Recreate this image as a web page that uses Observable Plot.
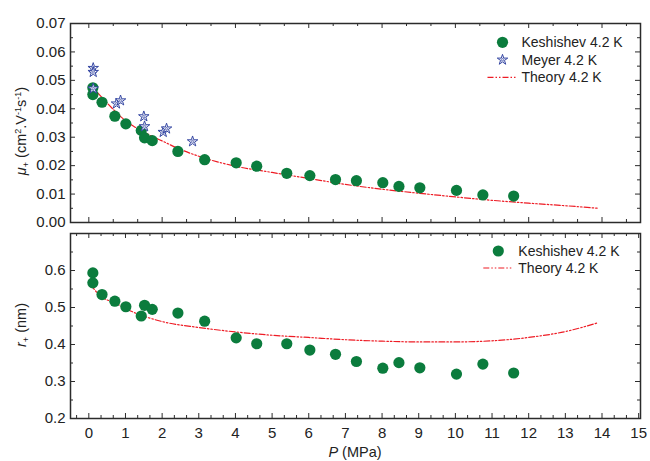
<!DOCTYPE html>
<html><head><meta charset="utf-8">
<script src="https://cdn.jsdelivr.net/npm/d3@7"></script>
<script src="https://cdn.jsdelivr.net/npm/@observablehq/plot@0.6"></script>
<style>
body{margin:0;background:#fff;}
#chart{width:650px;height:461px;position:relative;overflow:hidden;font-family:"Liberation Sans",Arial,sans-serif;}
#chart svg{display:block;}
</style></head><body><div id="chart"></div>
<script>
// ---- data ----
const kesP   = [0.11,0.11,0.36,0.71,1.01,1.43,1.52,1.73,2.43,3.16,4.02,4.58,5.40,6.03,6.73,7.30,8.02,8.46,9.03,10.03,10.75,11.59];
const kesMu  = [0.0474,0.0450,0.0423,0.0374,0.0347,0.0324,0.0298,0.0288,0.0250,0.0221,0.0210,0.0198,0.0173,0.0165,0.0151,0.0147,0.0140,0.0127,0.0122,0.0113,0.0097,0.0093];
const kesR   = [0.5935,0.5666,0.535,0.517,0.502,0.477,0.506,0.495,0.485,0.463,0.418,0.402,0.402,0.385,0.3735,0.354,0.336,0.351,0.337,0.320,0.347,0.323];
const meyP   = [0.12,0.12,0.12,0.755,0.865,1.50,1.52,2.03,2.12,2.83];
const meyMu  = [0.0543,0.0529,0.0471,0.0418,0.0429,0.0373,0.0338,0.0318,0.0330,0.0285];
const thMuP  = [0.25,0.5,1.0,1.5,2.0,2.5,3.0,4.0,5.0,6.0,7.0,8.0,9.0,10,11,12,13,13.9];
const thMu   = [0.0455,0.0420,0.0358,0.0318,0.0287,0.0257,0.0233,0.0198,0.0176,0.0155,0.0134,0.0117,0.0103,0.0090,0.0078,0.0068,0.0059,0.0050];
const thRP   = [0.05,0.3,0.7,1.2,2.0,3.0,4.0,5.0,6.0,7.0,8.0,9.0,10.0,11.0,12.0,13.0,13.9];
const thR    = [0.562,0.532,0.513,0.488,0.462,0.446,0.434,0.425,0.419,0.413,0.409,0.407,0.407,0.410,0.419,0.435,0.459];
const xTickLabels = d3.range(0,16,1);
const muTickLabels = [0,0.01,0.02,0.03,0.04,0.05,0.06,0.07];
const rTickLabels = [0.2,0.3,0.4,0.5,0.6];

// ---- layout ----
const W=650, ML=70, MR=10, PW=W-ML-MR;
const xDomain=[-0.5,15.05];
const topH=228, topMT=23, topMB=6, topPH=topH-topMT-topMB;
const botH=233, botMT=5, botMB=43, botPH=botH-botMT-botMB;
const FONT='"Liberation Sans",Arial,sans-serif';
const GREEN="#0b7c3d", BLUE="#3446a2", RED="#ee1c25", AX="#2b2b2b";
const dash="6,2,1.5,2,1.5,2";

const tbl=(xs,ys)=>xs.map((x,i)=>({x, y:ys[i]}));
const near=(a,b)=>Math.abs(a-b)<1e-9;

function frameTicks(xMaj,xMin,yMaj,yMin,PH){
  const o={stroke:AX,strokeWidth:1};
  return [
    Plot.tickX(xMaj,{x:d=>d,insetTop:PH-5,...o}),
    Plot.tickX(xMin,{x:d=>d,insetTop:PH-3,...o}),
    Plot.tickX(xMaj,{x:d=>d,insetBottom:PH-5,...o}),
    Plot.tickX(xMin,{x:d=>d,insetBottom:PH-3,...o}),
    Plot.tickY(yMaj,{y:d=>d,insetRight:PW-5,...o}),
    Plot.tickY(yMin,{y:d=>d,insetRight:PW-3,...o}),
    Plot.tickY(yMaj,{y:d=>d,insetLeft:PW-5,...o}),
    Plot.tickY(yMin,{y:d=>d,insetLeft:PW-3,...o}),
    Plot.frame({stroke:AX,strokeWidth:1.5})
  ];
}

// ---- top panel ----
const topXMaj=d3.range(0,15,2);
const topXMin=d3.range(0,15,2/3).map(v=>+v.toFixed(6)).filter(v=>!topXMaj.some(m=>near(m,v)));
const topYMin=[0.005,0.015,0.025,0.035,0.045,0.055,0.065];
const topSvg=Plot.plot({
  width:W,height:topH,marginTop:topMT,marginBottom:topMB,marginLeft:ML,marginRight:MR,
  style:{fontFamily:FONT,background:"#fff",overflow:"visible"},
  x:{domain:xDomain,axis:null},
  y:{domain:[0,0.07],axis:null},
  marks:[
    ...frameTicks(topXMaj,topXMin,muTickLabels,topYMin,topPH),
    Plot.axisY(muTickLabels,{tickSize:0,tickPadding:5,tickFormat:d3.format(".2f"),fontSize:15,fill:"#222",label:null}),
    Plot.line(tbl(thMuP,thMu),{x:"x",y:"y",stroke:RED,strokeWidth:1.2,strokeDasharray:dash,curve:"monotone-x"}),
    Plot.dot(tbl(kesP,kesMu),{x:"x",y:"y",r:5.6,fill:GREEN}),
    Plot.dot(tbl(meyP,meyMu),{x:"x",y:"y",symbol:"star",r:3.3,fill:"#fff",stroke:BLUE,strokeWidth:1.0}),
    Plot.dot(tbl(meyP,meyMu),{x:"x",y:"y",symbol:"star",r:1.1,fill:"none",stroke:BLUE,strokeWidth:0.5})
  ]
});

// ---- bottom panel ----
const botXMin=d3.range(-1/3,15.05,1/3).map(v=>+v.toFixed(6)).filter(v=>v>-0.5&&!xTickLabels.some(m=>near(m,v)));
const botYMin=[0.25,0.35,0.45,0.55,0.65];
const botSvg=Plot.plot({
  width:W,height:botH,marginTop:botMT,marginBottom:botMB,marginLeft:ML,marginRight:MR,
  style:{fontFamily:FONT,background:"#fff",overflow:"visible"},
  x:{domain:xDomain,axis:null},
  y:{domain:[0.2,0.7],axis:null},
  marks:[
    ...frameTicks(xTickLabels,botXMin,rTickLabels,botYMin,botPH),
    Plot.axisY(rTickLabels,{tickSize:0,tickPadding:5,tickFormat:d3.format(".1f"),fontSize:15,fill:"#222",label:null}),
    Plot.axisX(xTickLabels,{tickSize:0,tickPadding:9,tickFormat:d=>String(d),fontSize:15,fill:"#222",label:null}),
    Plot.line(tbl(thRP,thR),{x:"x",y:"y",stroke:RED,strokeWidth:1.2,strokeDasharray:dash,curve:"monotone-x"}),
    Plot.dot(tbl(kesP,kesR),{x:"x",y:"y",r:5.6,fill:GREEN})
  ]
});

const chart=document.getElementById("chart");
chart.appendChild(topSvg); chart.appendChild(botSvg);

// ---- axis titles & legends ----
function richText(svg,x,y,rot,parts,size){
  const t=d3.select(svg).append("text")
    .attr("transform",`translate(${x},${y}) rotate(${rot})`)
    .attr("text-anchor","middle").attr("font-size",size).attr("fill","#222")
    .attr("font-family",FONT);
  let cur=0;
  for(const p of parts){
    const s=t.append("tspan").text(p.t);
    const target=p.dy||0;
    if(target!==cur) s.attr("dy",target-cur);
    cur=target;
    if(p.it) s.attr("font-style","italic");
    if(p.fs) s.attr("font-size",p.fs);
  }
  return t;
}
richText(topSvg,26,131,-90,[
  {t:"μ",it:true},{t:"+",fs:9,dy:3},{t:" (cm"},{t:"2",fs:9,dy:-5},{t:".V"},{t:"-1",fs:9,dy:-5},{t:"s"},{t:"-1",fs:9,dy:-5},{t:")"}
],14.5);
richText(botSvg,26,325-228,-90,[
  {t:"r",it:true},{t:"+",fs:9,dy:3},{t:" (nm)"}
],14.5);
richText(botSvg,355,457-228,0,[{t:"P",it:true},{t:" (MPa)"}],14.5);

function legend(svg,items,x0,xt,y0,dy){
  const g=d3.select(svg).append("g").attr("font-family",FONT).attr("font-size",14).attr("fill","#222").attr("text-anchor","start");
  items.forEach((it,i)=>{
    const y=y0+i*dy;
    if(it.type==="circle") g.append("circle").attr("cx",x0).attr("cy",y).attr("r",5.6).attr("fill",GREEN);
    if(it.type==="star"){
      g.append("path").attr("d",d3.symbol(d3.symbolStar,34)()).attr("transform",`translate(${x0},${y})`).attr("fill","#fff").attr("stroke",BLUE).attr("stroke-width",1.0);
      g.append("path").attr("d",d3.symbol(d3.symbolStar,4)()).attr("transform",`translate(${x0},${y})`).attr("fill","none").attr("stroke",BLUE).attr("stroke-width",0.5);
    }
    if(it.type==="line") g.append("line").attr("x1",x0-15).attr("x2",x0+13).attr("y1",y).attr("y2",y).attr("stroke",RED).attr("stroke-width",1.2).attr("stroke-dasharray",dash);
    g.append("text").attr("x",xt).attr("y",y).attr("dy","0.35em").attr("text-anchor","start").text(it.label);
  });
}
legend(topSvg,[{type:"circle",label:"Keshishev 4.2 K"},{type:"star",label:"Meyer 4.2 K"},{type:"line",label:"Theory 4.2 K"}],502.5,521.5,42.3,17.5);
legend(botSvg,[{type:"circle",label:"Keshishev 4.2 K"},{type:"line",label:"Theory 4.2 K"}],498.3,518.3,251-228,17);
</script></body></html>
